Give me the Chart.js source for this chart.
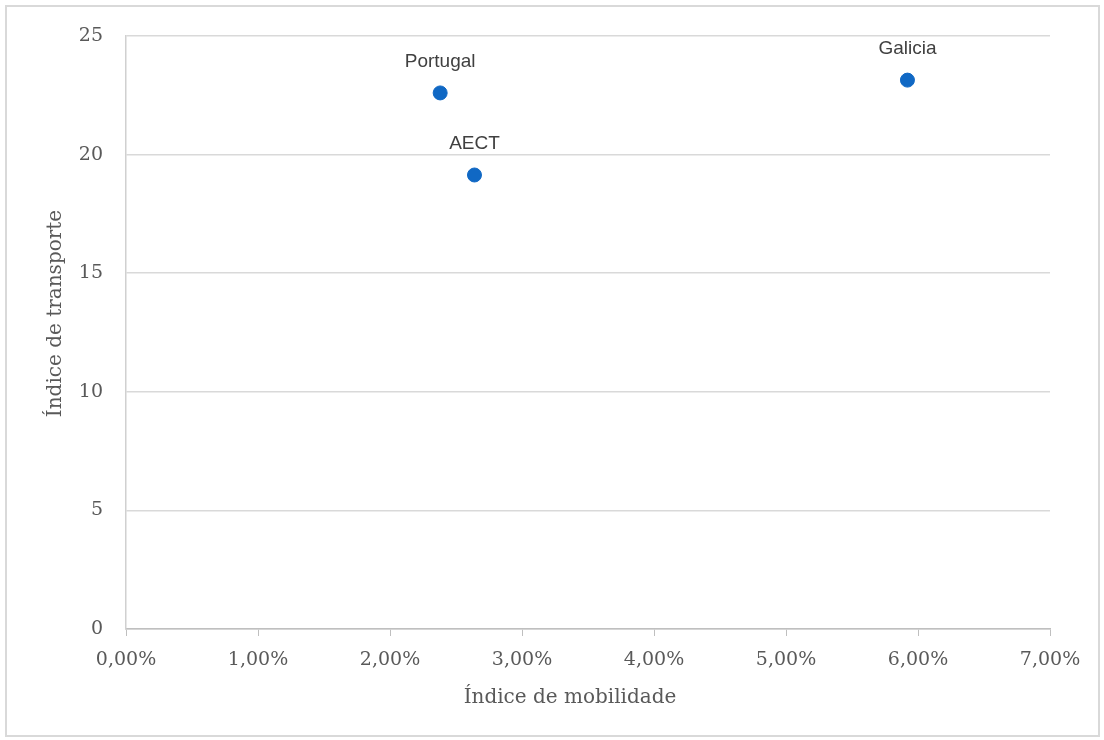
<!DOCTYPE html>
<html>
<head>
<meta charset="utf-8">
<script src="https://cdn.jsdelivr.net/npm/chart.js@4/dist/chart.umd.min.js"></script>
<style>
    body { margin: 0; background: #fff; }
    #wrap { position: relative; width: 1104px; height: 740px; }
    #frame {
        position: absolute; left: 5px; top: 5px; width: 1091px; height: 728px;
        border: 2px solid #d9d9d9; pointer-events: none;
    }
</style>
</head>
<body>
<div id="wrap">
    <canvas id="chart" width="1104" height="740"></canvas>
    <div id="frame"></div>
</div>
<script>
// Data
const regions = ['Portugal', 'AECT', 'Galicia'];
const mobility = [2.38, 2.64, 5.92];      // Índice de mobilidade (%)
const transport = [22.6, 19.14, 23.14];   // Índice de transporte

const xTitle = 'Índice de mobilidade';
const yTitle = 'Índice de transporte';

const axisFont = "'DejaVu Serif', serif";
const labelFont = "'Liberation Sans', Arial, sans-serif";

// Region names above each point
const pointLabels = {
    id: 'pointLabels',
    afterDatasetsDraw(chart) {
        const ctx = chart.ctx;
        const meta = chart.getDatasetMeta(0);
        ctx.save();
        ctx.font = '19px ' + labelFont;
        ctx.fillStyle = '#404040';
        ctx.textAlign = 'center';
        ctx.textBaseline = 'middle';
        meta.data.forEach((pt, i) => {
            ctx.fillText(regions[i], pt.x, pt.y - 31);
        });
        ctx.restore();
    }
};

// Axis titles, placed like the original (slightly off the plot centre)
const axisTitles = {
    id: 'axisTitles',
    afterDraw(chart) {
        const ctx = chart.ctx;
        const area = chart.chartArea;
        ctx.save();
        ctx.font = '20px ' + axisFont;
        ctx.fillStyle = '#595959';
        ctx.textAlign = 'center';
        ctx.textBaseline = 'middle';
        ctx.fillText(xTitle, (area.left + area.right) / 2 - 18, 698);
        ctx.translate(56, (area.top + area.bottom) / 2 - 19);
        ctx.rotate(-Math.PI / 2);
        ctx.fillText(yTitle, 0, 0);
        ctx.restore();
    }
};

const ctx = document.getElementById('chart').getContext('2d');
new Chart(ctx, {
    type: 'scatter',
    data: {
        datasets: [{
            data: mobility.map((x, i) => ({ x: x, y: transport[i] })),
            backgroundColor: '#1068c4',
            borderColor: '#1068c4',
            pointRadius: 7,
            pointHoverRadius: 7
        }]
    },
    options: {
        responsive: false,
        animation: false,
        layout: { padding: { left: 0, top: 36, right: 54, bottom: 0 } },
        plugins: {
            legend: { display: false },
            tooltip: { enabled: false }
        },
        scales: {
            x: {
                type: 'linear',
                min: 0,
                max: 7,
                afterFit: (scale) => { scale.height = 111; },
                border: { color: '#bfbfbf', width: 1.5 },
                grid: {
                    drawOnChartArea: false,
                    drawTicks: true,
                    tickLength: 7,
                    color: '#bfbfbf'
                },
                ticks: {
                    stepSize: 1,
                    padding: 13,
                    color: '#595959',
                    font: { family: axisFont, size: 19 },
                    callback: (v) => v.toFixed(2).replace('.', ',') + '%'
                }
            },
            y: {
                min: 0,
                max: 25,
                afterFit: (scale) => { scale.width = 126; },
                border: { color: '#d0d0d0', width: 1.5 },
                grid: {
                    color: '#d9d9d9',
                    lineWidth: 1.5,
                    drawTicks: false
                },
                ticks: {
                    stepSize: 5,
                    padding: 23,
                    color: '#595959',
                    font: { family: axisFont, size: 19 }
                }
            }
        }
    },
    plugins: [pointLabels, axisTitles]
});
</script>
</body>
</html>
